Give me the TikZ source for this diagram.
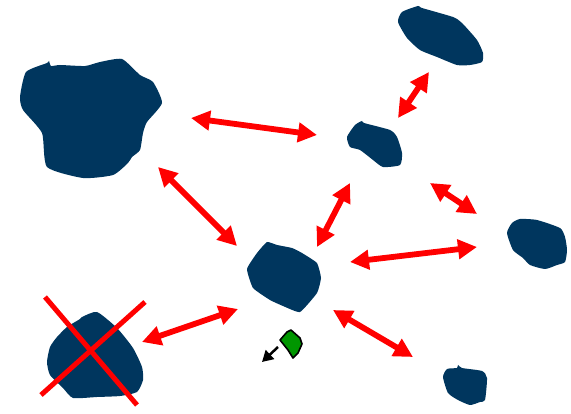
\documentclass[tikz,border=0pt]{standalone}
\usetikzlibrary{arrows.meta}
\definecolor{isle}{RGB}{0,54,94}
\definecolor{grn}{RGB}{0,150,0}
\tikzset{
  island/.style={fill=isle, draw=none},
  link/.style={draw=red, line width=5.8pt, {Triangle[length=19pt,width=19pt]}-{Triangle[length=19pt,width=19pt]}},
  cross/.style={draw=red, line width=5pt}
}
\begin{document}
\begin{tikzpicture}[x=1pt, y=-1pt]
        \useasboundingbox (0,0) rectangle (571,414);
        % Grande ilha (cima esquerda)
        \fill[island] plot[smooth cycle, tension=0.35] coordinates {(26,72) (47,63) (49,61) (51,66) (60,65) (85,66) (100,62) (122,59) (140,75) (153,82) (162,103) (147,122) (143,133) (140,150) (132,157) (128,163) (113,175) (83,178) (47,167) (42,133) (23,110) (20,97)};
        % Ilha (cima direita)
        \fill[island] plot[smooth cycle, tension=0.35] coordinates {(398,22) (402,12) (418,6) (422,8) (453,17) (462,23) (477,40) (483,53) (482,62) (470,65) (457,65) (437,57) (420,50) (407,38)};
        % Ilha pequena (meio)
        \fill[island] plot[smooth cycle, tension=0.35] coordinates {(347,137) (355,125) (362,121) (364,123) (390,130) (397,137) (402,153) (400,165) (383,167) (373,160) (360,150) (350,147)};
        % Ilha (direita)
        \fill[island] plot[smooth cycle, tension=0.35] coordinates {(507,233) (512,223) (520,219) (537,220) (560,228) (565,237) (567,250) (565,262) (557,265) (545,269) (530,265) (523,258) (513,250)};
        % Ilha (baixo direita)
        \fill[island] plot[smooth cycle, tension=0.35] coordinates {(443,377) (447,369) (457,368) (458,365) (462,368) (482,371) (487,378) (485,400) (480,402) (470,405) (458,400) (448,393)};
        % Ilha central
        \fill[island] plot[smooth cycle, tension=0.25] coordinates {(247,269) (257,253) (267,242) (277,245) (292,248) (302,253) (317,263) (321,278) (317,293) (300,312) (283,306) (270,300) (253,288)};
        % Ilha riscada (baixo esquerda)
        \fill[island] plot[smooth cycle, tension=0.35] coordinates {(47,362) (50,347) (57,337) (67,327) (80,319) (82,317) (97,312) (117,328) (133,348) (142,367) (143,380) (137,392) (120,396) (97,397) (73,398) (63,388) (50,375)};
        \draw[cross] (45,297) -- (137,405);
        \draw[cross] (145,302) -- (41,395);
        % Barco
        \filldraw[fill=grn, draw=black, line width=1.6pt, line join=round] (280,340) -- (287,332) -- (291,330) -- (300,338) -- (302,344) -- (298,353) -- (293,358) -- (288,350) -- cycle;
        \coordinate (boat) at (278,347);
        \coordinate (drift) at (262,362);
        \draw[line width=2.5pt, -{Triangle[length=11pt,width=12pt]}] (boat) -- (drift);
        % Pontos das ligações
        \coordinate (bigE) at (191,118);
        \coordinate (bigS) at (158,167);
        \coordinate (midW) at (317,135);
        \coordinate (midN) at (398,118);
        \coordinate (midS) at (350,183);
        \coordinate (midE) at (430,183);
        \coordinate (topS) at (429,72);
        \coordinate (rgtN) at (477,214);
        \coordinate (rgtW) at (477,247);
        \coordinate (cenNW) at (237,246);
        \coordinate (cenN) at (317,247);
        \coordinate (cenE) at (350,262);
        \coordinate (cenSE) at (333,310);
        \coordinate (cenW) at (238,309);
        \coordinate (lowN) at (413,357);
        \coordinate (xE) at (142,342);
        % Ligações
        \draw[link] (bigE) -- (midW);
        \draw[link] (bigS) -- (cenNW);
        \draw[link] (midN) -- (topS);
        \draw[link] (midS) -- (cenN);
        \draw[link] (midE) -- (rgtN);
        \draw[link] (cenE) -- (rgtW);
        \draw[link] (cenSE) -- (lowN);
        \draw[link] (xE) -- (cenW);
    \end{tikzpicture}
\end{document}
